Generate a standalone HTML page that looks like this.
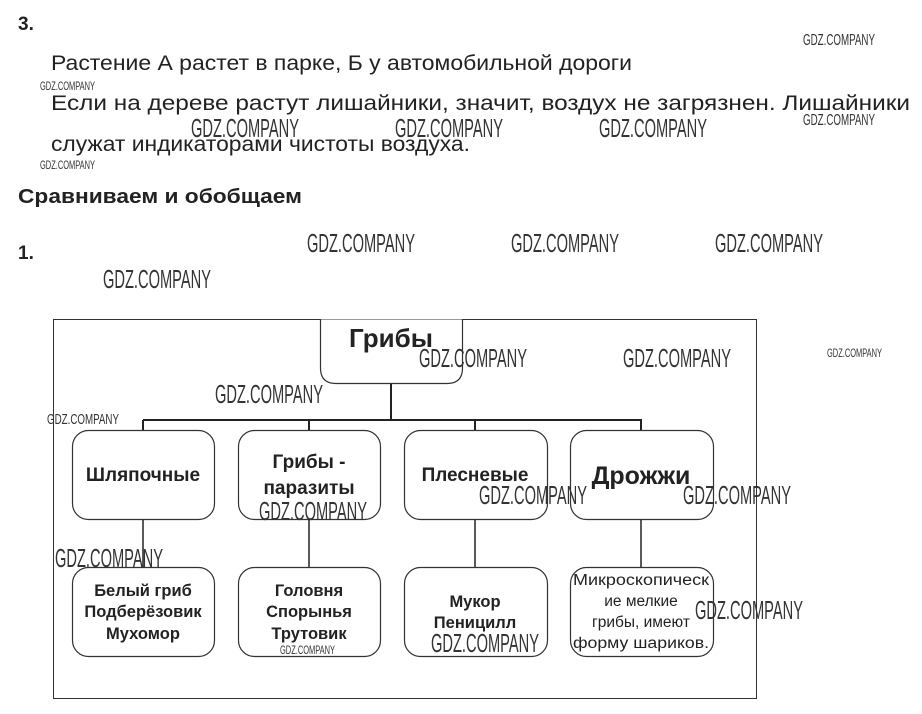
<!DOCTYPE html>
<html><head><meta charset="utf-8"><style>
html,body{margin:0;padding:0;background:#fff;width:922px;height:714px;overflow:hidden}
svg{display:block}
text{font-family:"Liberation Sans",sans-serif;fill:#222}
.w{fill:#333;font-weight:normal}
.b{font-weight:bold}
</style></head><body>
<svg width="922" height="714" viewBox="0 0 922 714" xmlns="http://www.w3.org/2000/svg">
<text x="18" y="30" class="b" font-size="19">3.</text>
<text x="51" y="70" font-size="21" textLength="581" lengthAdjust="spacingAndGlyphs">Растение А растет в парке, Б у автомобильной дороги</text>
<text x="51" y="110" font-size="21" textLength="859" lengthAdjust="spacingAndGlyphs">Если на дереве растут лишайники, значит, воздух не загрязнен. Лишайники</text>
<text x="51" y="151" font-size="21" textLength="419" lengthAdjust="spacingAndGlyphs">служат индикаторами чистоты воздуха.</text>
<text x="18" y="203" class="b" font-size="20" textLength="284" lengthAdjust="spacingAndGlyphs">Сравниваем и обобщаем</text>
<text x="18" y="259" class="b" font-size="19">1.</text>

<rect x="53.5" y="319.5" width="703" height="379" fill="none" stroke="#333" stroke-width="1"/>
<path d="M320.5 319.5 V368 Q320.5 383.5 336 383.5 H447 Q462.5 383.5 462.5 368 V319.5" fill="#fff" stroke="#333" stroke-width="1.2"/>
<g stroke="#222" stroke-width="2" fill="none">
<line x1="391" y1="384" x2="391" y2="420"/>
<line x1="143" y1="420" x2="642" y2="420"/>
<line x1="143" y1="420" x2="143" y2="430"/>
<line x1="309" y1="420" x2="309" y2="430"/>
<line x1="475" y1="420" x2="475" y2="430"/>
<line x1="641" y1="420" x2="641" y2="430"/>
</g>
<g stroke="#222" stroke-width="1.5">
<line x1="143" y1="519" x2="143" y2="567"/>
<line x1="309" y1="519" x2="309" y2="567"/>
<line x1="475" y1="519" x2="475" y2="567"/>
<line x1="641" y1="519" x2="641" y2="567"/>
</g>
<g fill="#fff" stroke="#333" stroke-width="1.2">
<rect x="72.5" y="430.5" width="142" height="89" rx="16"/>
<rect x="238.5" y="430.5" width="142" height="89" rx="16"/>
<rect x="404.5" y="430.5" width="143" height="89" rx="16"/>
<rect x="570.5" y="430.5" width="143" height="89" rx="16"/>
<rect x="72.5" y="567.5" width="142" height="89" rx="16"/>
<rect x="238.5" y="567.5" width="142" height="89" rx="16"/>
<rect x="404.5" y="567.5" width="143" height="89" rx="16"/>
<rect x="570.5" y="567.5" width="143" height="89" rx="16"/>
</g>
<g text-anchor="middle">
<text x="391" y="347" class="b" font-size="26">Грибы</text>
<text x="143" y="481" class="b" font-size="19">Шляпочные</text>
<text x="309" y="468" class="b" font-size="19">Грибы -</text>
<text x="309" y="494" class="b" font-size="19">паразиты</text>
<text x="475" y="481" class="b" font-size="19">Плесневые</text>
<text x="641" y="484" class="b" font-size="25">Дрожжи</text>
<text x="143" y="596" class="b" font-size="16.5">Белый гриб</text>
<text x="143" y="617" class="b" font-size="16.5">Подберёзовик</text>
<text x="143" y="639" class="b" font-size="16.5">Мухомор</text>
<text x="309" y="596" class="b" font-size="16.5">Головня</text>
<text x="309" y="617" class="b" font-size="16.5">Спорынья</text>
<text x="309" y="639" class="b" font-size="16.5">Трутовик</text>
<text x="475" y="607" class="b" font-size="16.5">Мукор</text>
<text x="475" y="628" class="b" font-size="16.5">Пеницилл</text>
<text x="641" y="585" font-size="15.5" textLength="136" lengthAdjust="spacingAndGlyphs">Микроскопическ</text>
<text x="641" y="606" font-size="15.5">ие мелкие</text>
<text x="641" y="627" font-size="15.5">грибы, имеют</text>
<text x="641" y="648" font-size="15.5" textLength="136" lengthAdjust="spacingAndGlyphs">форму шариков.</text>
</g>

<g class="w">
<text class="w" x="307" y="252" font-size="26" textLength="108" lengthAdjust="spacingAndGlyphs">GDZ.COMPANY</text>
<text class="w" x="511" y="252" font-size="26" textLength="108" lengthAdjust="spacingAndGlyphs">GDZ.COMPANY</text>
<text class="w" x="715" y="252" font-size="26" textLength="108" lengthAdjust="spacingAndGlyphs">GDZ.COMPANY</text>
<text class="w" x="103" y="288" font-size="26" textLength="108" lengthAdjust="spacingAndGlyphs">GDZ.COMPANY</text>
<text class="w" x="191" y="137" font-size="26" textLength="108" lengthAdjust="spacingAndGlyphs">GDZ.COMPANY</text>
<text class="w" x="395" y="137" font-size="26" textLength="108" lengthAdjust="spacingAndGlyphs">GDZ.COMPANY</text>
<text class="w" x="599" y="137" font-size="26" textLength="108" lengthAdjust="spacingAndGlyphs">GDZ.COMPANY</text>
<text class="w" x="419" y="367" font-size="26" textLength="108" lengthAdjust="spacingAndGlyphs">GDZ.COMPANY</text>
<text class="w" x="623" y="367" font-size="26" textLength="108" lengthAdjust="spacingAndGlyphs">GDZ.COMPANY</text>
<text class="w" x="215" y="403" font-size="26" textLength="108" lengthAdjust="spacingAndGlyphs">GDZ.COMPANY</text>
<text class="w" x="479" y="504" font-size="26" textLength="108" lengthAdjust="spacingAndGlyphs">GDZ.COMPANY</text>
<text class="w" x="683" y="504" font-size="26" textLength="108" lengthAdjust="spacingAndGlyphs">GDZ.COMPANY</text>
<text class="w" x="259" y="520" font-size="26" textLength="108" lengthAdjust="spacingAndGlyphs">GDZ.COMPANY</text>
<text class="w" x="55" y="567" font-size="26" textLength="108" lengthAdjust="spacingAndGlyphs">GDZ.COMPANY</text>
<text class="w" x="695" y="619" font-size="26" textLength="108" lengthAdjust="spacingAndGlyphs">GDZ.COMPANY</text>
<text class="w" x="431" y="652" font-size="26" textLength="108" lengthAdjust="spacingAndGlyphs">GDZ.COMPANY</text>
<text class="w" x="803" y="45" font-size="16" textLength="72" lengthAdjust="spacingAndGlyphs">GDZ.COMPANY</text>
<text class="w" x="803" y="125" font-size="16" textLength="72" lengthAdjust="spacingAndGlyphs">GDZ.COMPANY</text>
<text class="w" x="47" y="424" font-size="15" textLength="72" lengthAdjust="spacingAndGlyphs">GDZ.COMPANY</text>
<text class="w" x="40" y="90" font-size="12" textLength="55" lengthAdjust="spacingAndGlyphs">GDZ.COMPANY</text>
<text class="w" x="40" y="169" font-size="12" textLength="55" lengthAdjust="spacingAndGlyphs">GDZ.COMPANY</text>
<text class="w" x="827" y="357" font-size="12" textLength="55" lengthAdjust="spacingAndGlyphs">GDZ.COMPANY</text>
<text class="w" x="280" y="654" font-size="12" textLength="55" lengthAdjust="spacingAndGlyphs">GDZ.COMPANY</text>
</g>
</svg>
</body></html>
